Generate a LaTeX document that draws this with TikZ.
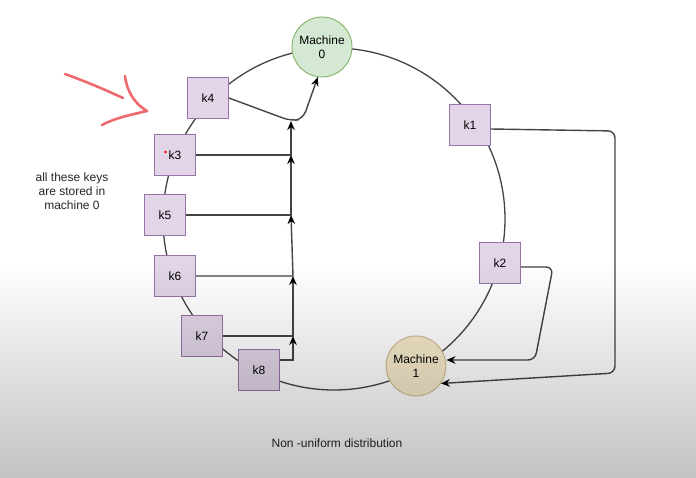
\documentclass[tikz,border=0pt]{standalone}
\usepackage{fontspec}
\setmainfont{Liberation Sans}
\usetikzlibrary{arrows.meta}
\definecolor{keyfill}{HTML}{E1D5E7}
\definecolor{keydraw}{HTML}{9673A6}
\definecolor{mzfill}{HTML}{D5E8D4}
\definecolor{mzdraw}{HTML}{82B366}
\definecolor{mofill}{HTML}{F6EACB}
\definecolor{modraw}{HTML}{CDB98C}
\definecolor{edgecol}{HTML}{444444}
\definecolor{pencol}{HTML}{EE6A6E}
\begin{document}
\begin{tikzpicture}[x=1pt,y=-1pt,
  keybox/.style={draw=keydraw,fill=keyfill,minimum width=41pt,minimum height=41pt,inner sep=0pt,line width=0.9pt,font=\fontsize{12}{14}\selectfont},
  machine/.style={circle,minimum size=60pt,inner sep=0pt,align=center,line width=0.9pt,font=\fontsize{12}{14}\selectfont},
  link/.style={draw=edgecol,line width=1.4pt},
  arr/.style={link,-{Stealth[length=9pt,width=7.5pt,color=black]}},
  lbl/.style={font=\fontsize{12}{14}\selectfont,align=center,text=black!85}]
\useasboundingbox (0,0) rectangle (696,478);
\fill[white] (0,0) rectangle (696,478);
% ring
\node[draw=edgecol,line width=1.3pt,circle,minimum size=342pt,inner sep=0pt] (ring) at (334,219) {};
% machines
\node[machine,draw=mzdraw,fill=mzfill] (m0) at (322,47) {Machine\\0};
\node[machine,draw=modraw,fill=mofill] (m1) at (416,366) {Machine\\1};
% keys
\node[keybox] (k1) at (470,125) {k1};
\node[keybox] (k2) at (500,263) {k2};
\node[keybox] (k3) at (175,155) {k3};
\node[keybox] (k4) at (208,98) {k4};
\node[keybox] (k5) at (165,215) {k5};
\node[keybox] (k6) at (175,276) {k6};
\node[keybox] (k7) at (202,336) {k7};
\node[keybox] (k8) at (259,370) {k8};
\fill[red] (165.5,152) circle (1.3pt);
% junctions
\coordinate (j7) at (293,336);
\coordinate (j6) at (293,276);
\coordinate (j5) at (291,215);
\coordinate (j3) at (291,155);
\coordinate (j4) at (291,121);
\coordinate (c8) at (293,360);
\draw[arr] ([yshift=10pt]k8.east) -- (c8) -- (j7);
\draw[arr] (k7.east) -- (j7) -- (j6);
\draw[arr] (k6.east) -- (j6) -- (j5);
\draw[arr] (k5.east) -- (j5) -- (j3);
\draw[arr] (k3.east) -- (j3) -- (j4);
\draw[arr,rounded corners=8pt] (k4.east) -- (j4) -- (303,119) -- (m0.262);
% machine 1 connectors
\coordinate (a1) at (615,131);
\coordinate (b1) at (615,373);
\draw[arr,rounded corners=7pt] ([yshift=-4pt]k1.east) -- (a1) -- (b1) -- (m1.-35);
\coordinate (a2) at (553,267);
\coordinate (b2) at (535,360);
\draw[arr,rounded corners=7pt] ([yshift=-4pt]k2.east) -- (a2) -- (b2) -- (m1.east |- b2);
% texts
\node[lbl] (note) at (72,191) {all these keys\\are stored in\\machine 0};
\node[lbl] (title) at (337,443) {Non -uniform distribution};
% red pen arrow
\draw[pencol,line width=2.6pt,line cap=round] (65,74) .. controls (90,83) and (110,92) .. (123,98);
\draw[pencol,line width=2.6pt,line cap=round,line join=round] (125,76) .. controls (127,92) and (135,104) .. (147,111) .. controls (130,115) and (115,118) .. (102,125);
% video fade
\begin{scope}[blend mode=multiply]
\shade[top color=white,bottom color=black!24] (0,262) rectangle (696,478);
\end{scope}
\end{tikzpicture}
\end{document}
